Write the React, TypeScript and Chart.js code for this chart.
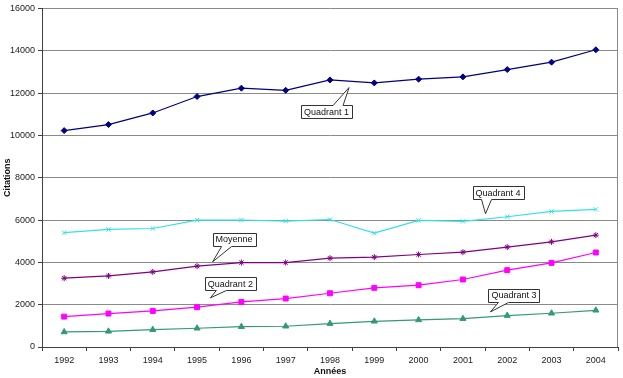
import React, { useEffect, useRef } from "react";
import Chart from "chart.js/auto";

// Years on the category axis
const years = ["1992", "1993", "1994", "1995", "1996", "1997", "1998", "1999", "2000", "2001", "2002", "2003", "2004"];

// Citation counts per series
const quadrant1 = [10225, 10510, 11060, 11835, 12230, 12130, 12620, 12480, 12655, 12765, 13110, 13460, 14045];
const quadrant4 = [5400, 5555, 5600, 5995, 6000, 5950, 6025, 5380, 5980, 5935, 6155, 6405, 6500];
const moyenne = [3250, 3360, 3550, 3820, 3990, 3990, 4195, 4245, 4370, 4480, 4720, 4970, 5285];
const quadrant2 = [1435, 1580, 1705, 1880, 2130, 2290, 2540, 2795, 2920, 3190, 3630, 3975, 4465];
const quadrant3 = [710, 740, 820, 885, 960, 980, 1105, 1215, 1280, 1340, 1485, 1595, 1735];

// Y axis range
const yMin = 0;
const yMax = 16000;
const yStep = 2000;

// Callout labels: tip anchored in data space (fractional category index, value),
// box placed relative to the tip in pixels, wedge base offset from box centre.
const callouts = [
  { text: "Quadrant 1", tipX: 6.43, tipY: 12260, dx: -22.5, dy: 24, base: 11.5 },
  { text: "Quadrant 4", tipX: 9.51, tipY: 6296, dx: 12.5, dy: -21, base: -11.5 },
  { text: "Moyenne", tipX: 3.35, tipY: 4024, dx: 21.5, dy: -22.5, base: -7.5 },
  { text: "Quadrant 2", tipX: 3.3, tipY: 2320, dx: 20, dy: -14, base: -9 },
  { text: "Quadrant 3", tipX: 9.62, tipY: 1657, dx: 23.5, dy: -16.5, base: -10.5 },
];

const FONT = "'Liberation Sans', Arial, sans-serif";

const calloutPlugin = {
  id: "callouts",
  afterDatasetsDraw(chart: any) {
    const { ctx, scales, chartArea } = chart;
    const xs = scales.x;
    const ys = scales.y;
    ctx.save();
    // right frame of the plot area
    ctx.strokeStyle = "#8a8a8a";
    ctx.lineWidth = 1;
    ctx.beginPath();
    ctx.moveTo(Math.round(chartArea.right) - 0.5, chartArea.top);
    ctx.lineTo(Math.round(chartArea.right) - 0.5, chartArea.bottom);
    ctx.stroke();

    ctx.font = `9px ${FONT}`;
    ctx.textAlign = "center";
    ctx.textBaseline = "middle";
    for (const c of callouts) {
      const x0 = xs.getPixelForValue(0);
      const x1 = xs.getPixelForValue(1);
      const tx = x0 + (x1 - x0) * c.tipX;
      const ty = ys.getPixelForValue(c.tipY);
      const cx = tx + c.dx;
      const cy = ty + c.dy;
      const w = ctx.measureText(c.text).width + 6;
      const h = 13;
      const l = Math.round(cx - w / 2) + 0.5;
      const r = Math.round(cx + w / 2) + 0.5;
      const t = Math.round(cy - h / 2) + 0.5;
      const b = Math.round(cy + h / 2) + 0.5;
      const bx = cx + c.base;
      const below = ty > cy;
      ctx.beginPath();
      ctx.moveTo(l, t);
      if (!below) {
        ctx.lineTo(bx - 5, t);
        ctx.lineTo(tx, ty);
        ctx.lineTo(bx + 5, t);
      }
      ctx.lineTo(r, t);
      ctx.lineTo(r, b);
      if (below) {
        ctx.lineTo(bx + 5, b);
        ctx.lineTo(tx, ty);
        ctx.lineTo(bx - 5, b);
      }
      ctx.lineTo(l, b);
      ctx.closePath();
      ctx.fillStyle = "#ffffff";
      ctx.fill();
      ctx.strokeStyle = "#333333";
      ctx.lineWidth = 1;
      ctx.stroke();
      ctx.fillStyle = "#111111";
      ctx.fillText(c.text, cx, cy + 0.5);
    }
    ctx.restore();
  },
};

export default function App() {
  const ref = useRef<HTMLCanvasElement>(null);

  useEffect(() => {
    document.body.style.margin = "0";
    const series = (label: string, data: number[], color: string, style: string, radius: number) => ({
      label,
      data,
      borderColor: color,
      backgroundColor: color,
      pointBackgroundColor: color,
      pointBorderColor: color,
      pointStyle: style,
      pointRadius: radius,
      pointBorderWidth: 1,
      borderWidth: 1.2,
      tension: 0,
    });
    const chart = new Chart(ref.current!, {
      type: "line",
      data: {
        labels: years,
        datasets: [
          series("Quadrant 1", quadrant1, "#000080", "rectRot", 3),
          series("Quadrant 4", quadrant4, "#33e0e8", "crossRot", 3),
          series("Moyenne", moyenne, "#800080", "star", 3),
          series("Quadrant 2", quadrant2, "#ff00ff", "rect", 3.5),
          series("Quadrant 3", quadrant3, "#339977", "triangle", 3.5),
        ],
      },
      options: {
        responsive: false,
        animation: false,
        layout: { padding: { top: 8, right: 2, left: 0, bottom: 0 } },
        plugins: { legend: { display: false }, tooltip: { enabled: false } },
        scales: {
          x: {
            type: "category",
            offset: true,
            grid: { offset: true, drawOnChartArea: false, tickLength: 4, color: "#404040" },
            border: { color: "#404040" },
            ticks: { font: { family: FONT, size: 9 }, color: "#222", padding: 4, maxRotation: 0, autoSkip: false },
            title: { display: true, text: "Années", font: { family: FONT, size: 9, weight: "bold" }, color: "#111", padding: { top: 0, bottom: 1 } },
            afterFit: (s: any) => {
              s.height = 31;
              s.paddingLeft = 0;
              s.paddingRight = 0;
            },
          },
          y: {
            min: yMin,
            max: yMax,
            ticks: {
              stepSize: yStep,
              font: { family: FONT, size: 9 },
              color: "#222",
              padding: 3,
              callback: (v: any) => String(v),
            },
            grid: { color: "#8a8a8a", tickColor: "#404040", tickLength: 4, lineWidth: 1 },
            border: { color: "#404040" },
            title: { display: true, text: "Citations", font: { family: FONT, size: 9, weight: "bold" }, color: "#111", padding: { top: 2, bottom: 0 } },
            afterFit: (s: any) => { s.width = 42; },
          },
        },
      },
      plugins: [calloutPlugin],
    } as any);
    return () => chart.destroy();
  }, []);

  return (
    <div style={{ width: 623, height: 378 }}>
      <canvas ref={ref} width={623} height={378} />
    </div>
  );
}
